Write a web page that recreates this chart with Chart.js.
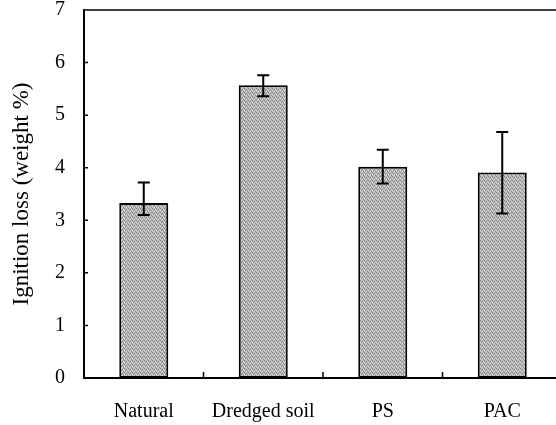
<!DOCTYPE html>
<html lang="en">
  <head>
    <meta charset="UTF-8" />
    <title>Ignition loss</title>
    <script src="https://cdn.jsdelivr.net/npm/chart.js"></script>
    <style>
      html, body { margin: 0; padding: 0; overflow: hidden; background: #fff; }
    </style>
  </head>
  <body>
    <canvas id="chart" width="570" height="425"></canvas>

    <script>
      const categories = ["Natural", "Dredged soil", "PS", "PAC"];
      const ignitionLoss = [3.33, 5.57, 4.02, 3.91];
      const errLow = [3.1, 5.36, 3.7, 3.13];
      const errHigh = [3.72, 5.76, 4.34, 4.68];
      const yTicks = [0, 1, 2, 3, 4, 5, 6, 7];

      // speckled grey fill like the scanned bars
      function makePattern() {
        const c = document.createElement("canvas");
        c.width = 4;
        c.height = 4;
        const g = c.getContext("2d");
        g.fillStyle = "#bdbdbd";
        g.fillRect(0, 0, 4, 4);
        g.fillStyle = "#808080";
        g.fillRect(0, 0, 1, 1);
        g.fillRect(2, 1, 1, 1);
        g.fillRect(1, 2, 1, 1);
        g.fillRect(3, 3, 1, 1);
        g.fillStyle = "#e0e0e0";
        g.fillRect(2, 3, 1, 1);
        g.fillRect(0, 2, 1, 1);
        return g.createPattern(c, "repeat");
      }

      const errorBars = {
        id: "errorBars",
        afterDatasetsDraw(chart) {
          const ctx = chart.ctx;
          const x = chart.scales.x;
          const y = chart.scales.y;
          ctx.save();
          ctx.strokeStyle = "#000";
          ctx.lineWidth = 2;
          for (let i = 0; i < categories.length; i++) {
            const px = x.getPixelForValue(i);
            const top = y.getPixelForValue(errHigh[i]);
            const bot = y.getPixelForValue(errLow[i]);
            ctx.beginPath();
            ctx.moveTo(px, top);
            ctx.lineTo(px, bot);
            ctx.moveTo(px - 6, top);
            ctx.lineTo(px + 6, top);
            ctx.moveTo(px - 6, bot);
            ctx.lineTo(px + 6, bot);
            ctx.stroke();
          }
          ctx.restore();
        },
      };

      const frame = {
        id: "frame",
        afterDraw(chart) {
          const ctx = chart.ctx;
          const a = chart.chartArea;
          const x = chart.scales.x;
          const y = chart.scales.y;
          ctx.save();
          ctx.strokeStyle = "#000";
          ctx.lineWidth = 1.5;
          ctx.beginPath();
          ctx.moveTo(a.left, a.top);
          ctx.lineTo(a.right, a.top);
          // inward ticks
          for (let i = 1; i < categories.length; i++) {
            const px = (x.getPixelForValue(i - 1) + x.getPixelForValue(i)) / 2;
            ctx.moveTo(px, a.bottom);
            ctx.lineTo(px, a.bottom - 6);
          }
          for (const v of yTicks) {
            const py = y.getPixelForValue(v);
            ctx.moveTo(a.left, py);
            ctx.lineTo(a.left + 4, py);
          }
          ctx.stroke();
          ctx.restore();
        },
      };

      new Chart(document.getElementById("chart"), {
        type: "bar",
        data: {
          labels: categories,
          datasets: [
            {
              data: ignitionLoss,
              backgroundColor: makePattern(),
              borderColor: "#000",
              borderWidth: 2,
              borderSkipped: false,
              categoryPercentage: 1,
              barPercentage: 0.41,
            },
          ],
        },
        options: {
          responsive: false,
          animation: false,
          layout: { padding: { left: 8, top: 10, right: 8, bottom: 0 } },
          plugins: {
            legend: { display: false },
            tooltip: { enabled: false },
          },
          scales: {
            x: {
              grid: { display: false },
              border: { color: "#000", width: 2 },
              ticks: {
                color: "#000",
                padding: 14,
                font: { family: "Liberation Serif", size: 20 },
              },
              afterFit(s) {
                s.height = 47;
                s.paddingLeft = 0;
                s.paddingRight = 0;
              },
            },
            y: {
              min: 0,
              max: 7,
              afterBuildTicks(s) {
                s.ticks = yTicks.map((v) => ({ value: v }));
              },
              grid: { display: false },
              border: { color: "#000", width: 2 },
              ticks: {
                color: "#000",
                padding: 11,
                font: { family: "Liberation Serif", size: 20 },
              },
              title: {
                display: true,
                text: "Ignition loss (weight %)",
                color: "#000",
                padding: { top: 0, bottom: 0 },
                font: { family: "Liberation Serif", size: 23 },
              },
              afterFit(s) {
                s.width = 76;
                s.paddingTop = 0;
                s.paddingBottom = 0;
              },
            },
          },
        },
        plugins: [errorBars, frame],
      });
    </script>
  </body>
</html>
